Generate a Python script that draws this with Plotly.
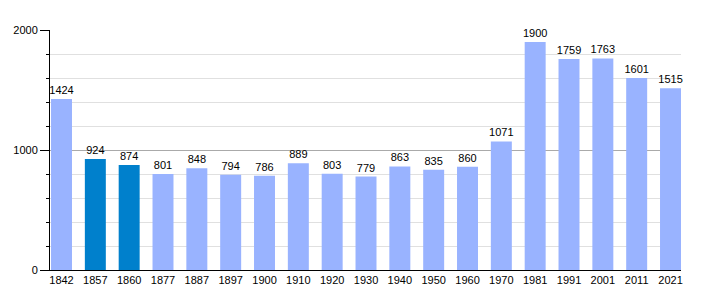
import plotly.graph_objects as go

years = ["1842", "1857", "1860", "1877", "1887", "1897", "1900", "1910", "1920", "1930",
         "1940", "1950", "1960", "1970", "1981", "1991", "2001", "2011", "2021"]
population = [1424, 924, 874, 801, 848, 794, 786, 889, 803, 779,
              863, 835, 860, 1071, 1900, 1759, 1763, 1601, 1515]
highlight = ["1857", "1860"]

colors = ["#0080cc" if y in highlight else "#99b3ff" for y in years]

fig = go.Figure(go.Bar(
    x=list(range(len(years))), y=population,
    marker=dict(color=colors, line=dict(width=0)),
    width=0.62,
    text=[str(v) for v in population], textposition="outside",
    textfont=dict(family="Liberation Sans, Arial", size=11, color="black"),
    cliponaxis=False,
))

fig.update_layout(
    width=710, height=300,
    margin=dict(l=50, r=29, t=30, b=30),
    plot_bgcolor="white", paper_bgcolor="white",
    showlegend=False,
    uniformtext=dict(minsize=11, mode="show"),
    font=dict(family="Liberation Sans, Arial", size=11, color="black"),
    xaxis=dict(
        tickmode="array", tickvals=list(range(len(years))), ticktext=years,
        range=[-0.34, len(years) - 1 + 0.31],
        showgrid=False, showline=True, linecolor="black", linewidth=1,
        ticks="", tickfont=dict(size=11),
    ),
    yaxis=dict(
        range=[0, 2000], tickvals=[0, 1000, 2000],
        showgrid=True, gridcolor="#aaaaaa", gridwidth=1,
        showline=True, linecolor="black", linewidth=1,
        ticks="outside", ticklen=9, tickcolor="black",
        zeroline=False,
        minor=dict(dtick=200, showgrid=True, gridcolor="#e0e0e0",
                   ticks="outside", ticklen=3, tickcolor="black"),
        tickfont=dict(size=11),
    ),
)

fig.write_html("out.html")
